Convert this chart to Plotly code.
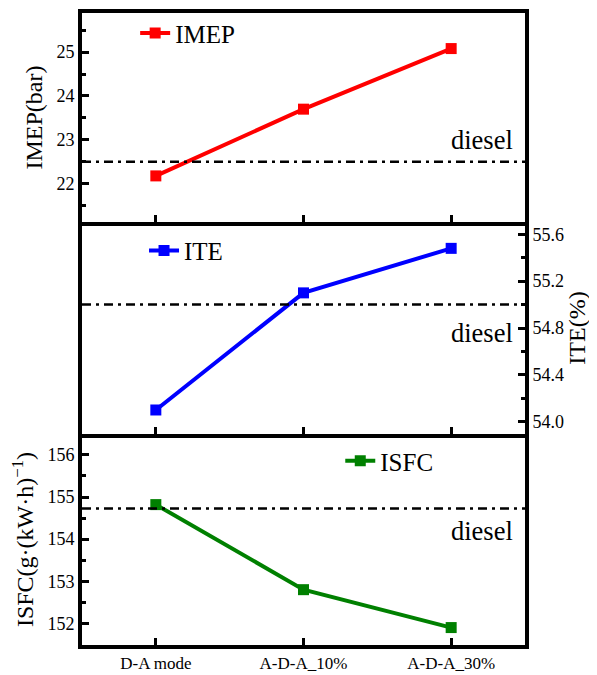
import plotly.graph_objects as go
from plotly.subplots import make_subplots

categories = ["D-A mode", "A-D-A_10%", "A-D-A_30%"]
imep = [22.18, 23.70, 25.08]
ite = [54.10, 55.10, 55.48]
isfc = [154.82, 152.80, 151.90]
diesel_imep = 22.5
diesel_ite = 55.0
diesel_isfc = 154.73

FONT = "Times New Roman, Liberation Serif, DejaVu Serif, serif"
BLACK = "black"

fig = make_subplots(rows=3, cols=1, shared_xaxes=True, vertical_spacing=0,
                    row_heights=[210, 213, 212])

series = [
    (imep, "IMEP", "#FF0000", 1, "legend"),
    (ite, "ITE", "#0000FF", 2, "legend2"),
    (isfc, "ISFC", "#008000", 3, "legend3"),
]
for vals, name, color, row, leg in series:
    fig.add_trace(go.Scatter(
        x=categories, y=vals, name=name, mode="lines+markers",
        line=dict(color=color, width=4),
        marker=dict(symbol="square", size=11, color=color),
        legend=leg, showlegend=True), row=row, col=1)

dash = "9px,5px,3px,5px"
for v, row in [(diesel_imep, 1), (diesel_ite, 2), (diesel_isfc, 3)]:
    fig.add_hline(y=v, row=row, col=1, line=dict(color=BLACK, width=2.5, dash=dash))

axis_common = dict(showline=True, linewidth=4, linecolor=BLACK,
                   ticks="inside", tickwidth=2.5, ticklen=7, tickcolor=BLACK,
                   showgrid=False, zeroline=False)

for r in (1, 2, 3):
    fig.update_xaxes(row=r, col=1, type="category", range=[-0.5, 2.5],
                     mirror=(r == 1),
                     tickfont=dict(family=FONT, size=17, color=BLACK),
                     **axis_common)

minor_common = dict(ticks="inside", ticklen=4, tickwidth=2.5, tickcolor=BLACK, showgrid=False)

fig.update_yaxes(row=1, col=1, range=[21.13, 25.89], dtick=1, tick0=22, mirror=True,
                 minor=dict(dtick=0.5, tick0=21.5, **minor_common),
                 tickfont=dict(family=FONT, size=18, color=BLACK),
                 title=dict(text="IMEP(bar)", font=dict(family=FONT, size=24, color=BLACK), standoff=8),
                 **axis_common)
fig.update_yaxes(row=2, col=1, side="right", range=[53.895, 55.705], dtick=0.4, tick0=54.0,
                 tickformat=".1f", mirror=True,
                 minor=dict(dtick=0.2, tick0=54.0, **minor_common),
                 tickfont=dict(family=FONT, size=18, color=BLACK),
                 title=dict(text="ITE(%)", font=dict(family=FONT, size=24, color=BLACK), standoff=6),
                 **axis_common)
fig.update_yaxes(row=3, col=1, range=[151.486, 156.497], dtick=1, tick0=152, mirror=True,
                 minor=dict(dtick=0.5, tick0=151.5, **minor_common),
                 tickfont=dict(family=FONT, size=18, color=BLACK),
                 title=dict(text="ISFC(g·(kW·h)<sup>−1</sup>)", font=dict(family=FONT, size=24, color=BLACK), standoff=8),
                 **axis_common)

diesel_font = dict(family=FONT, size=26.5, color=BLACK)
for yref, yv in [("y", 23.0), ("y2", 54.76), ("y3", 154.19)]:
    fig.add_annotation(text="diesel", xref="paper", x=0.9774, xanchor="right",
                       yref=yref, y=yv, yanchor="middle", showarrow=False, font=diesel_font)

label_font = dict(family=FONT, size=25, color=BLACK)
leg_common = dict(font=label_font, bgcolor="rgba(0,0,0,0)", xanchor="left", yanchor="middle",
                  itemwidth=30)
fig.update_layout(
    width=589, height=667,
    margin=dict(l=74, r=72, t=2, b=30),
    paper_bgcolor="white", plot_bgcolor="white",
    font=dict(family=FONT, color=BLACK),
    legend=dict(x=0.12, y=0.968, **leg_common),
    legend2=dict(x=0.14, y=0.624, **leg_common),
    legend3=dict(x=0.583, y=0.291, **leg_common),
)

fig.write_html("out.html")
